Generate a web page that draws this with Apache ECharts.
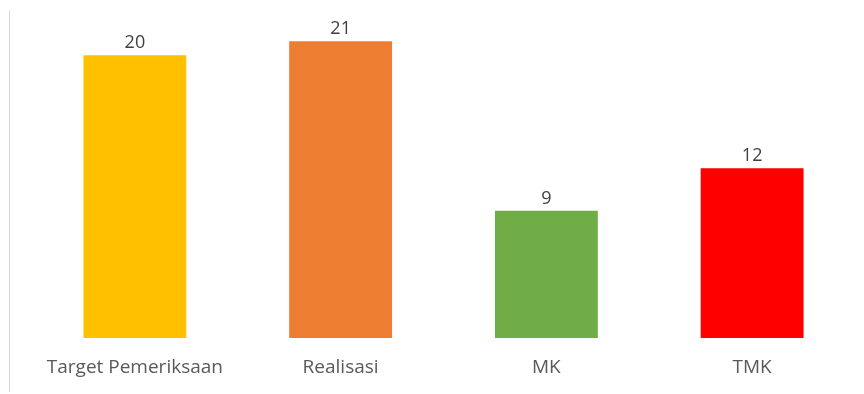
<!DOCTYPE html>
<html>
<head>
<meta charset="utf-8">
<script src="https://cdn.jsdelivr.net/npm/echarts@6/dist/echarts.min.js"></script>
<style>
  html, body { margin: 0; padding: 0; background: #fff; }
  #chart { width: 864px; height: 394px; }
</style>
</head>
<body>
<div id="chart"></div>
<script>
const categories = ["Target Pemeriksaan", "Realisasi", "MK", "TMK"];
const values = [20, 21, 9, 12];
const barColors = ["#ffc000", "#ed7d31", "#70ad47", "#ff0000"];

const chart = echarts.init(document.getElementById("chart"));
const option = {
  animation: false,
  textStyle: { fontFamily: "Open Sans" },
  graphic: [
    {
      type: "line",
      shape: { x1: 9.5, y1: 10, x2: 9.5, y2: 392 },
      style: { stroke: "#d9d9d9", lineWidth: 1 },
    },
  ],
  grid: {
    left: 32,
    right: 9,
    top: 27,
    bottom: 56,
    containLabel: false,
  },
  xAxis: {
    type: "category",
    data: categories,
    axisLine: { show: false },
    axisTick: { show: false },
    axisLabel: {
      color: "#595959",
      fontSize: 19,
      margin: 20,
      interval: 0,
    },
  },
  yAxis: {
    type: "value",
    min: 0,
    max: 22,
    show: false,
    splitLine: { show: false },
  },
  series: [
    {
      type: "bar",
      barWidth: "50%",
      data: values.map((v, i) => ({ value: v, itemStyle: { color: barColors[i] } })),
      label: {
        show: true,
        position: "top",
        distance: 3,
        color: "#404040",
        fontSize: 18,
      },
    },
  ],
};
chart.setOption(option);
</script>
</body>
</html>
